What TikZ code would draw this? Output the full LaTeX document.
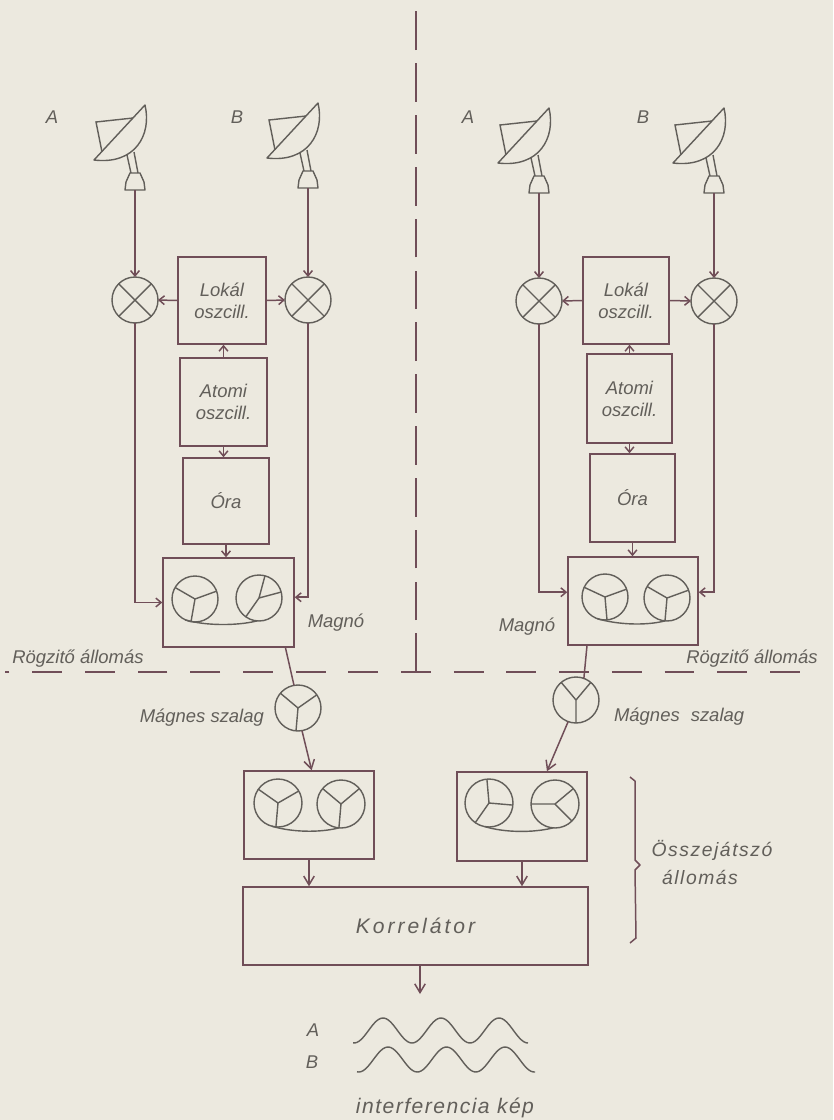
\documentclass[tikz,border=0pt]{standalone}
\usepackage{fontspec}
\setmainfont{Liberation Sans}
\usetikzlibrary{arrows.meta,calc}

\definecolor{papir}{RGB}{236,233,223}
\definecolor{tinta}{RGB}{112,78,88}
\definecolor{ceruza}{RGB}{98,95,90}

\newcommand\betu{\fontsize{10.5}{12.5}\selectfont\itshape}
\newcommand\ritka[1]{\fontsize{#1}{#1}\selectfont\itshape\addfontfeature{LetterSpace=8}}

\tikzset{
  vonal/.style={draw=tinta, line width=0.85pt},
  nyil/.style={vonal, -{Straight Barb[length=5pt,width=6pt]}},
  kisnyil/.style={vonal, -{Straight Barb[length=3pt,width=5pt]}},
  doboz/.style={vonal, rectangle, inner sep=0pt, align=center, text=ceruza, font=\betu},
  kever/.style={draw=ceruza, line width=0.8pt, circle, minimum size=0.92cm, inner sep=0pt, outer sep=0pt},
  orso/.style={draw=ceruza, line width=0.8pt, circle, minimum size=0.92cm, inner sep=0pt, outer sep=0pt},
  kullo/.style={draw=ceruza, line width=0.8pt},
  felirat/.style={text=ceruza, font=\betu, inner sep=1pt},
  szaggat/.style={draw=tinta, line width=0.85pt},
  antenna/.pic={
    \draw[kullo, line join=round] (-41,-30) -- (10,-85) .. controls (17,-55) and (0,-25) .. (-41,-30) -- cycle;
    \draw[kullo] (-2,-72) -- (-39,-68) -- (-33,-38);
    \draw[kullo] (-8,-35) -- (-4,-17) (-1,-38) -- (3,-17);
    \draw[kullo, line join=round] (-10,0) -- (-9,-8) -- (-5,-17) -- (5,-17) -- (9,-8) -- (10,0) -- cycle;
    \coordinate (-talp) at (0,0);
  }
}

\begin{document}
\begin{tikzpicture}[x=0.02cm, y=-0.02cm]
\fill[papir] (0,0) rectangle (833,1120);
\useasboundingbox (0,0) rectangle (833,1120);

% valaszto vonalak
\coordinate (fent) at (416,5);
\coordinate (kereszt) at (416,672);
\coordinate (balszel) at (5,672);
\coordinate (jobbszel) at (808,672);
\draw[szaggat, dash pattern=on 22pt off 7.5pt] (kereszt) -- (fent);
\draw[szaggat, dash pattern=on 17pt off 13pt, dash phase=8.5pt] (kereszt) -- (balszel);
\draw[szaggat, dash pattern=on 17pt off 13pt, dash phase=8.5pt] (kereszt) -- (jobbszel);
\node[felirat, anchor=south] (LRogz) at (78,669) {Rögzitő állomás};
\node[felirat, anchor=south] (RRogz) at (752,669) {Rögzitő állomás};

% bal rogzito allomas
\node[felirat] (LfeA) at (52,117) {A};
\node[felirat] (LfeB) at (237,117) {B};
\pic (LantA) at (135,190) {antenna};
\pic (LantB) at (308,188) {antenna};
\node[kever] (LmxA) at (135,300) {};
\node[kever] (LmxB) at (308,300) {};
\draw[kullo] (LmxA.north west) -- (LmxA.south east) (LmxA.north east) -- (LmxA.south west);
\draw[kullo] (LmxB.north west) -- (LmxB.south east) (LmxB.north east) -- (LmxB.south west);
\node[doboz, minimum width=1.76cm, minimum height=1.74cm] (LLokal) at (222,300.5) {Lokál\\oszcill.};
\node[doboz, minimum width=1.74cm, minimum height=1.76cm] (LAtomi) at (223.5,402) {Atomi\\oszcill.};
\node[doboz, minimum width=1.72cm, minimum height=1.72cm] (LOra) at (226,501) {Óra};
\node[doboz, minimum width=2.62cm, minimum height=1.78cm] (LMagno) at (228.5,602.5) {};
\node[orso] (LM1) at (195,599) {};
\node[orso] (LM2) at (259,598) {};
\draw[kullo] (LM1.center) -- (LM1.150) (LM1.center) -- (LM1.20) (LM1.center) -- (LM1.-100);
\draw[kullo] (LM2.center) -- (LM2.75) (LM2.center) -- (LM2.15) (LM2.center) -- (LM2.-125);
\draw[kullo] (LM1.-115) .. controls +(20,6) and +(-20,5) .. (LM2.-95);
\node[felirat] (LMfel) at (336,623) {Magnó};

\draw[kisnyil] (LantA-talp) -- (LmxA.north);
\draw[kisnyil] (LantB-talp) -- (LmxB.north);
\draw[kisnyil] (LLokal.west) -- (LmxA.east);
\draw[kisnyil] (LLokal.east) -- (LmxB.west);
\draw[kisnyil] (LAtomi.north) -- (LAtomi.north |- LLokal.south);
\draw[kisnyil] (LAtomi.south) -- (LAtomi.south |- LOra.north);
\draw[kisnyil] (LOra.south) -- (LOra.south |- LMagno.north);
\draw[kisnyil] (LmxA.south) |- (LMagno.west);
\draw[kisnyil] (LmxB.south) |- ([yshift=3pt]LMagno.east);

% jobb rogzito allomas
\node[felirat] (RfeA) at (468,117) {A};
\node[felirat] (RfeB) at (643,117) {B};
\pic (RantA) at (539,193) {antenna};
\pic (RantB) at (714,193) {antenna};
\node[kever] (RmxA) at (539,301) {};
\node[kever] (RmxB) at (714,301) {};
\draw[kullo] (RmxA.north west) -- (RmxA.south east) (RmxA.north east) -- (RmxA.south west);
\draw[kullo] (RmxB.north west) -- (RmxB.south east) (RmxB.north east) -- (RmxB.south west);
\node[doboz, minimum width=1.72cm, minimum height=1.74cm] (RLokal) at (626,300.5) {Lokál\\oszcill.};
\node[doboz, minimum width=1.70cm, minimum height=1.78cm] (RAtomi) at (629.5,398.5) {Atomi\\oszcill.};
\node[doboz, minimum width=1.70cm, minimum height=1.76cm] (ROra) at (632.5,498) {Óra};
\node[doboz, minimum width=2.60cm, minimum height=1.76cm] (RMagno) at (633,601) {};
\node[orso] (RM1) at (605,597) {};
\node[orso] (RM2) at (667,598) {};
\draw[kullo] (RM1.center) -- (RM1.155) (RM1.center) -- (RM1.20) (RM1.center) -- (RM1.-85);
\draw[kullo] (RM2.center) -- (RM2.150) (RM2.center) -- (RM2.20) (RM2.center) -- (RM2.-95);
\draw[kullo] (RM1.-110) .. controls +(20,6) and +(-20,5) .. (RM2.-95);
\node[felirat] (RMfel) at (527,627) {Magnó};

\draw[kisnyil] (RantA-talp) -- (RmxA.north);
\draw[kisnyil] (RantB-talp) -- (RmxB.north);
\draw[kisnyil] (RLokal.west) -- (RmxA.east);
\draw[kisnyil] (RLokal.east) -- (RmxB.west);
\draw[kisnyil] (RAtomi.north) -- (RAtomi.north |- RLokal.south);
\draw[kisnyil] (RAtomi.south) -- (RAtomi.south |- ROra.north);
\draw[kisnyil] (ROra.south) -- (ROra.south |- RMagno.north);
\draw[kisnyil] (RmxA.south) |- ([yshift=5pt]RMagno.west);
\draw[kisnyil] (RmxB.south) |- ([yshift=5pt]RMagno.east);

% magnes szalagok
\node[orso] (LsOrso) at (298,708) {};
\draw[kullo] (LsOrso.center) -- (LsOrso.140) (LsOrso.center) -- (LsOrso.35) (LsOrso.center) -- (LsOrso.-95);
\node[orso] (RsOrso) at (576,700) {};
\draw[kullo] (RsOrso.center) -- (RsOrso.130) (RsOrso.center) -- (RsOrso.50) (RsOrso.center) -- (RsOrso.-90);
\node[felirat, anchor=east] (LsFel) at (266,718) {Mágnes szalag};
\node[felirat, anchor=west] (RsFel) at (612,717) {Mágnes\hspace{0.6em}szalag};

% osszejatszo allomas
\node[doboz, minimum width=2.60cm, minimum height=1.76cm] (LLejatszo) at (309,815) {};
\node[orso, minimum size=0.96cm] (LL1) at (278,803) {};
\node[orso, minimum size=0.96cm] (LL2) at (341,804) {};
\draw[kullo] (LL1.center) -- (LL1.145) (LL1.center) -- (LL1.30) (LL1.center) -- (LL1.-95);
\draw[kullo] (LL2.center) -- (LL2.140) (LL2.center) -- (LL2.40) (LL2.center) -- (LL2.-95);
\draw[kullo] (LL1.-105) .. controls +(20,6) and +(-20,5) .. (LL2.-95);

\node[doboz, minimum width=2.60cm, minimum height=1.78cm] (RLejatszo) at (522,816.5) {};
\node[orso, minimum size=0.96cm] (RL1) at (489,803) {};
\node[orso, minimum size=0.96cm] (RL2) at (555,804) {};
\draw[kullo] (RL1.center) -- (RL1.95) (RL1.center) -- (RL1.-5) (RL1.center) -- (RL1.-125);
\draw[kullo] (RL2.center) -- (RL2.180) (RL2.center) -- (RL2.40) (RL2.center) -- (RL2.-45);
\draw[kullo] (RL1.-100) .. controls +(20,6) and +(-20,5) .. (RL2.-95);

\draw[vonal] ($(LMagno.south west)!0.93!(LMagno.south east)$) -- (LsOrso.100);
\draw[nyil] (LsOrso.-80) -- ($(LLejatszo.north west)!0.52!(LLejatszo.north east)$);
\draw[vonal] ($(RMagno.south west)!0.15!(RMagno.south east)$) -- (RsOrso.70);
\draw[nyil] (RsOrso.-110) -- ($(RLejatszo.north west)!0.69!(RLejatszo.north east)$);

\node[doboz, minimum width=6.9cm, minimum height=1.56cm,
      font={\ritka{12}\addfontfeature{LetterSpace=14}}] (Korr) at (415.5,926) {Korrelátor};
\draw[nyil] (LLejatszo.south) -- (LLejatszo.south |- Korr.north);
\draw[nyil] (RLejatszo.south) -- (RLejatszo.south |- Korr.north);

% kapcsos zarojel
\draw[vonal, line join=round] (630,777) -- (635,781) -- (635,860) -- (640,865) -- (635,870) -- (636,938) -- (630,943);
\node[felirat, font=\ritka{11}] (Ossz) at (712,850) {Összejátszó};
\node[felirat, font=\ritka{11}] (Allo) at (700,877) {állomás};

% interferencia kep
\coordinate (kep) at (420,994);
\draw[nyil] (Korr.south -| kep) -- (kep);
\node[felirat] (HA) at (313,1030) {A};
\node[felirat] (HB) at (312,1062) {B};
\draw[kullo] plot[domain=353:528, samples=90, smooth] (\x, {1030.5-12.5*sin((\x-368.5)*6.2069)});
\draw[kullo] plot[domain=357:535, samples=90, smooth] (\x, {1059.5-12.5*sin((\x-373.4)*6.1538)});
\node[felirat, font={\ritka{12}\addfontfeature{LetterSpace=7}}] (Kep) at (445,1108) {interferencia kép};
\end{tikzpicture}
\end{document}
